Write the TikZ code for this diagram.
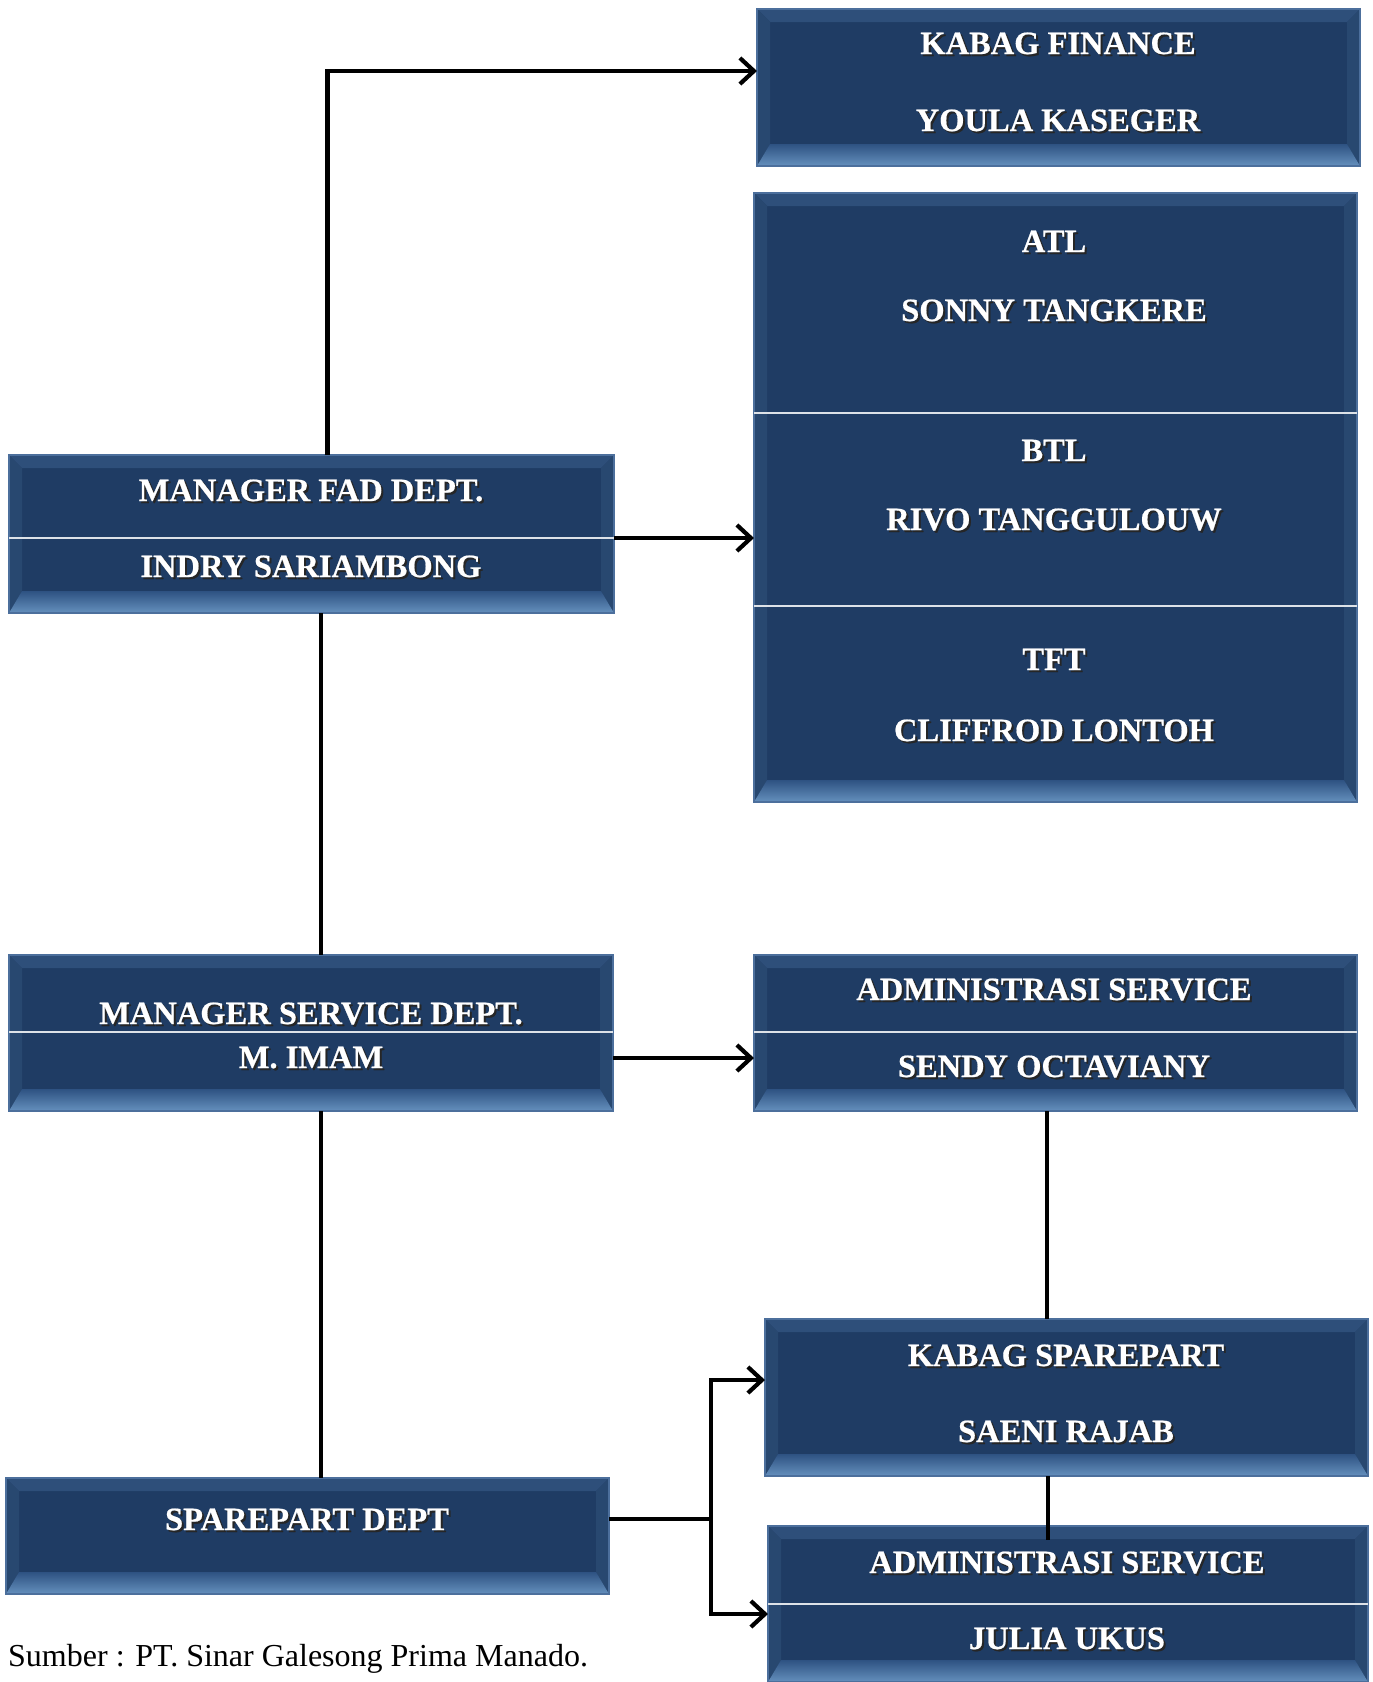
\documentclass[tikz,border=0pt]{standalone}
\usepackage{fontspec}
\setmainfont{Liberation Serif}
\newfontfamily\lblfont[FakeBold=0.6]{Liberation Serif}
\usetikzlibrary{arrows.meta}
\definecolor{boxmain}{HTML}{1F3C64}
\definecolor{bevtop}{HTML}{2E4F7A}
\definecolor{bevside}{HTML}{284870}
\definecolor{bevbotA}{HTML}{2E5282}
\definecolor{bevbotB}{HTML}{6590BD}
\definecolor{boxedge}{HTML}{4C6F9C}
\newcommand\shtxt[1]{\makebox[0pt][l]{\kern2pt\raisebox{-2pt}{\textcolor{black!85}{#1}}}\textcolor{white}{#1}}
\tikzset{
  box/.style={rectangle, inner sep=0pt, outer sep=0pt, fill=boxmain, draw=boxedge, line width=1.5pt,
    path picture={
      \fill[bevtop] (path picture bounding box.north west) -- (path picture bounding box.north east)
        -- ([xshift=-13pt,yshift=-13pt]path picture bounding box.north east)
        -- ([xshift=13pt,yshift=-13pt]path picture bounding box.north west) -- cycle;
      \fill[bevside] (path picture bounding box.north west) -- (path picture bounding box.south west)
        -- ([xshift=13pt,yshift=22pt]path picture bounding box.south west)
        -- ([xshift=13pt,yshift=-13pt]path picture bounding box.north west) -- cycle;
      \fill[bevside] (path picture bounding box.north east) -- (path picture bounding box.south east)
        -- ([xshift=-13pt,yshift=22pt]path picture bounding box.south east)
        -- ([xshift=-13pt,yshift=-13pt]path picture bounding box.north east) -- cycle;
      \shade[top color=bevbotA, bottom color=bevbotB] (path picture bounding box.south west) -- (path picture bounding box.south east)
        -- ([xshift=-13pt,yshift=22pt]path picture bounding box.south east)
        -- ([xshift=13pt,yshift=22pt]path picture bounding box.south west) -- cycle;
    }},
  lbl/.style={anchor=base, inner sep=0pt, font=\fontsize{32.5}{32.5}\selectfont\lblfont\bfseries},
  divider/.style={draw=white!85!boxmain, line width=2pt},
  link/.style={draw=black, line width=4.2pt},
  conn/.style={link, -{Straight Barb[length=14pt,width=26pt,line width=4.2pt]}},
}
\begin{document}
\begin{tikzpicture}[x=1pt,y=-1pt]
\useasboundingbox (0,0) rectangle (1373,1682);
% boxes
\node[box, minimum width=603pt, minimum height=157pt] (fin) at (1058.5,87.5) {};
\node[box, minimum width=603pt, minimum height=609pt] (atl) at (1055.5,497.5) {};
\node[box, minimum width=605pt, minimum height=158pt] (fad) at (311.5,534) {};
\node[box, minimum width=604pt, minimum height=156pt] (svc) at (311,1033) {};
\node[box, minimum width=603pt, minimum height=156pt] (adm) at (1055.5,1033) {};
\node[box, minimum width=603pt, minimum height=157pt] (ksp) at (1066.5,1397.5) {};
\node[box, minimum width=600pt, minimum height=156pt] (adm2) at (1068,1604) {};
\node[box, minimum width=603pt, minimum height=116pt] (spd) at (307.5,1536) {};
% dividers
\draw[divider] (atl.west |- 0,413) -- (atl.east |- 0,413);
\draw[divider] (atl.west |- 0,606) -- (atl.east |- 0,606);
\draw[divider] (fad.west |- 0,538) -- (fad.east |- 0,538);
\draw[divider] (svc.west |- 0,1032) -- (svc.east |- 0,1032);
\draw[divider] (adm.west |- 0,1032) -- (adm.east |- 0,1032);
\draw[divider] (adm2.west |- 0,1604) -- (adm2.east |- 0,1604);
% labels
\node[lbl] (t1) at (1058,54) {\shtxt{KABAG FINANCE}};
\node[lbl] (t2) at (1058,131) {\shtxt{YOULA KASEGER}};
\node[lbl] (t3) at (1054,252) {\shtxt{ATL}};
\node[lbl] (t4) at (1054,321) {\shtxt{SONNY TANGKERE}};
\node[lbl] (t5) at (1054,461) {\shtxt{BTL}};
\node[lbl] (t6) at (1054,530) {\shtxt{RIVO TANGGULOUW}};
\node[lbl] (t7) at (1054,670) {\shtxt{TFT}};
\node[lbl] (t8) at (1054,741) {\shtxt{CLIFFROD LONTOH}};
\node[lbl] (t9) at (311,501) {\shtxt{MANAGER FAD DEPT.}};
\node[lbl] (t10) at (311,577) {\shtxt{INDRY SARIAMBONG}};
\node[lbl] (t11) at (311,1024) {\shtxt{MANAGER SERVICE DEPT.}};
\node[lbl] (t12) at (311,1068) {\shtxt{M. IMAM}};
\node[lbl] (t13) at (1054,1000) {\shtxt{ADMINISTRASI SERVICE}};
\node[lbl] (t14) at (1054,1077) {\shtxt{SENDY OCTAVIANY}};
\node[lbl] (t15) at (1066,1366) {\shtxt{KABAG SPAREPART}};
\node[lbl] (t16) at (1066,1442) {\shtxt{SAENI RAJAB}};
\node[lbl] (t17) at (1067,1573) {\shtxt{ADMINISTRASI SERVICE}};
\node[lbl] (t18) at (1067,1649) {\shtxt{JULIA UKUS}};
\node[lbl] (t19) at (307,1530) {\shtxt{SPAREPART DEPT}};
\node[anchor=base west, inner sep=0pt, font=\fontsize{32}{32}\selectfont] (src) at (8,1666) {Sumber : PT. Sinar Galesong Prima Manado.};
% connectors
\draw[conn] ([xshift=16pt]fad.north) |- ([yshift=16.5pt]fin.west);
\draw[conn] ([yshift=-4pt]fad.east) -- ([yshift=-4pt]fad.east -| atl.west);
\draw[link] ([xshift=9.5pt]fad.south) -- ([xshift=9.5pt]fad.south |- svc.north);
\draw[conn] ([yshift=-25pt]svc.east) -- ([yshift=-25pt]svc.east -| adm.west);
\draw[link] ([xshift=10pt]svc.south) -- ([xshift=10pt]svc.south |- spd.north);
\draw[link] ([xshift=-8.5pt]adm.south) -- ([xshift=-8.5pt]adm.south |- ksp.north);
\draw[link] ([xshift=-18.5pt]ksp.south) -- ([xshift=-18.5pt,yshift=-14pt]ksp.south |- adm2.north);
\coordinate (j) at (711,1519);
\draw[link] ([yshift=17pt]spd.east) -- (j);
\draw[conn] (j) |- ([yshift=17.5pt]ksp.west);
\draw[conn] (j) |- ([yshift=-10pt]adm2.west);
\end{tikzpicture}
\end{document}
